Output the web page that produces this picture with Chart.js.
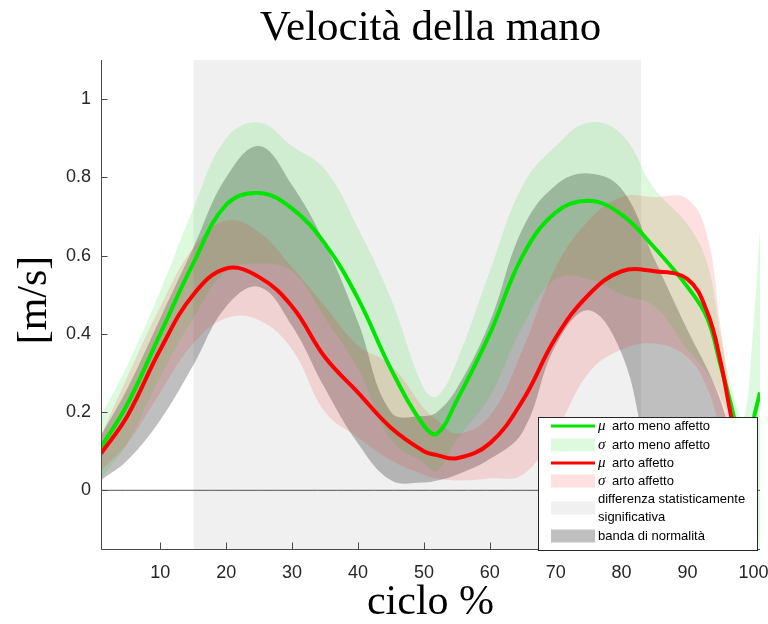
<!DOCTYPE html>
<html>
<head>
<meta charset="utf-8">
<title>Velocità della mano</title>
<script src="https://cdn.jsdelivr.net/npm/chart.js@4.4.1/dist/chart.umd.min.js"></script>
<style>
  html, body { margin: 0; padding: 0; background: #fff; }
  #wrap { width: 768px; height: 624px; }
</style>
</head>
<body>
<div id="wrap"><canvas id="velChart"></canvas></div>
<script>
// ciclo % sample positions
const cycle = [1, 5, 10, 15, 20, 25, 30, 35, 40, 45, 50, 52, 55, 60, 65, 70, 75, 80, 85, 90, 93, 95, 97, 98.5, 100, 101];

// arto meno affetto: media, media + sd, media - sd  [m/s]
const lessMean  = [0.11, 0.22, 0.40, 0.58, 0.73, 0.76, 0.72, 0.63, 0.49, 0.31, 0.165, 0.145, 0.23, 0.40, 0.60, 0.71, 0.74, 0.705, 0.62, 0.52, 0.44, 0.32, 0.19, 0.06, 0.18, 0.25];
const lessUpper = [0.19, 0.32, 0.51, 0.72, 0.90, 0.94, 0.88, 0.82, 0.67, 0.49, 0.26, 0.24, 0.33, 0.56, 0.78, 0.88, 0.94, 0.91, 0.77, 0.68, 0.58, 0.40, 0.24, 0.18, 0.42, 0.67];
const lessLower = [0.03, 0.12, 0.29, 0.44, 0.56, 0.58, 0.56, 0.44, 0.31, 0.13, 0.07, 0.05, 0.13, 0.24, 0.42, 0.54, 0.54, 0.50, 0.47, 0.36, 0.30, 0.24, 0.14, -0.05, -0.06, -0.17];

// arto affetto (last sample not recorded)
const affMean  = [0.094, 0.19, 0.36, 0.50, 0.567, 0.545, 0.47, 0.34, 0.25, 0.16, 0.10, 0.09, 0.082, 0.12, 0.23, 0.39, 0.50, 0.56, 0.56, 0.54, 0.455, 0.33, 0.16, 0.08, 0.05, null];
const affUpper = [0.14, 0.29, 0.47, 0.62, 0.69, 0.66, 0.57, 0.47, 0.37, 0.32, 0.21, 0.18, 0.145, 0.19, 0.36, 0.57, 0.69, 0.75, 0.75, 0.745, 0.65, 0.42, 0.19, 0.10, 0.08, null];
const affLower = [0.05, 0.12, 0.25, 0.375, 0.44, 0.435, 0.36, 0.20, 0.135, 0.077, 0.04, 0.03, 0.025, 0.03, 0.04, 0.15, 0.30, 0.36, 0.375, 0.34, 0.26, 0.16, 0.08, 0.04, 0.02, null];

// banda di normalità
const normUpper = [0.14, 0.26, 0.44, 0.62, 0.80, 0.88, 0.78, 0.63, 0.43, 0.20, 0.19, 0.20, 0.26, 0.43, 0.67, 0.78, 0.81, 0.77, 0.59, 0.41, 0.31, 0.23, 0.12, 0.06, 0.04, 0.04];
const normLower = [0.026, 0.077, 0.18, 0.32, 0.47, 0.52, 0.42, 0.26, 0.12, 0.026, 0.02, 0.025, 0.04, 0.08, 0.15, 0.37, 0.46, 0.35, 0.06, 0.0, 0.0, 0.03, 0.08, 0.05, 0.04, 0.04];

// differenza statisticamente significativa (ciclo %)
const sigRange = [15, 83];

const xTicks = [10, 20, 30, 40, 50, 60, 70, 80, 90, 100];
const yTicks = [0, 0.2, 0.4, 0.6, 0.8, 1];
const xLimits = [1, 101];
const yLimits = [-0.15, 1.1];

const GREEN = 'rgb(0, 230, 0)';
const RED = 'rgb(255, 0, 0)';
const GREEN_FILL = 'rgba(0, 220, 0, 0.13)';
const RED_FILL = 'rgba(255, 0, 0, 0.12)';
const NORM_FILL = 'rgba(0, 0, 0, 0.25)';
const SIG_FILL = '#f0f0f0';
const SERIF = '"Liberation Serif", "DejaVu Serif", serif';
const SANS = '"Liberation Sans", Arial, sans-serif';

const pts = ys => cycle.map((x, i) => ({ x: x, y: ys[i] }));

function bound(ys) {
    return { data: pts(ys), borderWidth: 0, borderColor: 'transparent', pointRadius: 0, fill: false };
}

// legend entries, top to bottom
const legendItems = [
    { kind: 'line', color: GREEN, greek: 'μ', text: ['arto meno affetto'] },
    { kind: 'patch', color: GREEN_FILL, greek: 'σ', text: ['arto meno affetto'] },
    { kind: 'line', color: RED, greek: 'μ', text: ['arto affetto'] },
    { kind: 'patch', color: RED_FILL, greek: 'σ', text: ['arto affetto'] },
    { kind: 'patch', color: SIG_FILL, greek: '', text: ['differenza statisticamente', 'significativa'] },
    { kind: 'patch', color: NORM_FILL, greek: '', text: ['banda di normalità'] }
];

const framePlugin = {
    id: 'frame',
    afterDatasetsDraw(chart) {
        const { ctx, chartArea: a, scales: { x, y } } = chart;
        ctx.save();
        ctx.strokeStyle = '#4a4a4a';
        ctx.lineWidth = 1;
        ctx.beginPath();
        ctx.moveTo(a.left + 0.5, a.top);
        ctx.lineTo(a.left + 0.5, a.bottom + 0.5);
        ctx.lineTo(a.right, a.bottom + 0.5);
        // inward tick marks
        xTicks.forEach(v => {
            const px = Math.round(x.getPixelForValue(v)) + 0.5;
            ctx.moveTo(px, a.bottom);
            ctx.lineTo(px, a.bottom - 6.5);
        });
        yTicks.forEach(v => {
            const py = Math.round(y.getPixelForValue(v)) + 0.5;
            ctx.moveTo(a.left, py);
            ctx.lineTo(a.left + 6.5, py);
        });
        ctx.stroke();
        ctx.restore();
    },
    afterDraw(chart) {
        const { ctx, chartArea: a } = chart;
        const cx = (a.left + a.right) / 2;
        ctx.save();
        ctx.fillStyle = '#000';

        // title and axis titles
        ctx.font = '43px ' + SERIF;
        ctx.textAlign = 'center';
        ctx.textBaseline = 'alphabetic';
        ctx.fillText('Velocità della mano', cx, 40);
        ctx.font = '42px ' + SERIF;
        ctx.fillText('ciclo %', cx, 614);
        ctx.save();
        ctx.translate(46, 300);
        ctx.rotate(-Math.PI / 2);
        ctx.fillText('[m/s]', 0, 0);
        ctx.restore();

        // legend
        const bx = 538.5, by = 417.5, bw = 219, bh = 133;
        ctx.fillStyle = '#fff';
        ctx.fillRect(bx, by, bw, bh);
        ctx.strokeStyle = '#262626';
        ctx.lineWidth = 1;
        ctx.strokeRect(bx, by, bw, bh);

        const rowY = [426, 445, 463, 481, 508, 536];
        legendItems.forEach((item, i) => {
            const ry = rowY[i];
            if (item.kind === 'line') {
                ctx.strokeStyle = item.color;
                ctx.lineWidth = 3;
                ctx.beginPath();
                ctx.moveTo(551, ry);
                ctx.lineTo(595, ry);
                ctx.stroke();
            } else {
                ctx.fillStyle = item.color;
                ctx.fillRect(551, ry - 6.5, 44, 13);
            }
            ctx.fillStyle = '#000';
            ctx.textAlign = 'left';
            ctx.textBaseline = 'middle';
            let tx = 598;
            if (item.greek) {
                ctx.font = 'italic 15px ' + SERIF;
                ctx.fillText(item.greek, tx, ry);
                tx = 612;
            }
            ctx.font = '13px ' + SANS;
            if (item.text.length === 1) {
                ctx.fillText(item.text[0], tx, ry);
            } else {
                ctx.fillText(item.text[0], tx, ry - 9);
                ctx.fillText(item.text[1], tx, ry + 9);
            }
        });
        ctx.restore();
    }
};

const ctx = document.getElementById('velChart').getContext('2d');

new Chart(ctx, {
    type: 'line',
    data: {
        datasets: [
            // index 0 is drawn last (on top)
            { data: pts(affMean), borderColor: RED, borderWidth: 4, pointRadius: 0, fill: false },
            { data: pts(lessMean), borderColor: GREEN, borderWidth: 4, pointRadius: 0, fill: false },
            { data: [{ x: xLimits[0], y: 0 }, { x: xLimits[1], y: 0 }], borderColor: '#555', borderWidth: 1, pointRadius: 0, fill: false },
            bound(affLower),
            Object.assign(bound(affUpper), { fill: 3, backgroundColor: RED_FILL }),
            bound(lessLower),
            Object.assign(bound(lessUpper), { fill: 5, backgroundColor: GREEN_FILL }),
            bound(normLower),
            Object.assign(bound(normUpper), { fill: 7, backgroundColor: NORM_FILL }),
            {
                data: [{ x: sigRange[0], y: yLimits[1] }, { x: sigRange[1], y: yLimits[1] }],
                borderWidth: 0, borderColor: 'transparent', pointRadius: 0,
                fill: 'start', backgroundColor: SIG_FILL, tension: 0
            }
        ]
    },
    options: {
        responsive: true,
        maintainAspectRatio: false,
        animation: false,
        events: [],
        layout: { padding: { top: 60, right: 8, bottom: 0, left: 0 } },
        elements: { line: { tension: 0.4 } },
        plugins: {
            legend: { display: false },
            tooltip: { enabled: false },
            title: { display: false }
        },
        scales: {
            x: {
                type: 'linear',
                min: xLimits[0],
                max: xLimits[1],
                afterBuildTicks: s => { s.ticks = xTicks.map(v => ({ value: v })); },
                afterFit: s => {
                    s.height = 75;
                    s.paddingLeft = 0;
                    s.paddingRight = 0;
                },
                grid: { display: false, drawTicks: false },
                border: { display: false },
                ticks: {
                    autoSkip: false,
                    maxRotation: 0,
                    padding: 13,
                    color: '#262626',
                    font: { family: SANS, size: 18 },
                    callback: v => String(v)
                }
            },
            y: {
                type: 'linear',
                min: yLimits[0],
                max: yLimits[1],
                afterBuildTicks: s => { s.ticks = yTicks.map(v => ({ value: v })); },
                afterFit: s => {
                    s.width = 101;
                    s.paddingTop = 0;
                    s.paddingBottom = 0;
                },
                grid: { display: false, drawTicks: false },
                border: { display: false },
                ticks: {
                    padding: 10,
                    color: '#262626',
                    font: { family: SANS, size: 18 },
                    callback: v => String(v)
                }
            }
        }
    },
    plugins: [framePlugin]
});
</script>
</body>
</html>
